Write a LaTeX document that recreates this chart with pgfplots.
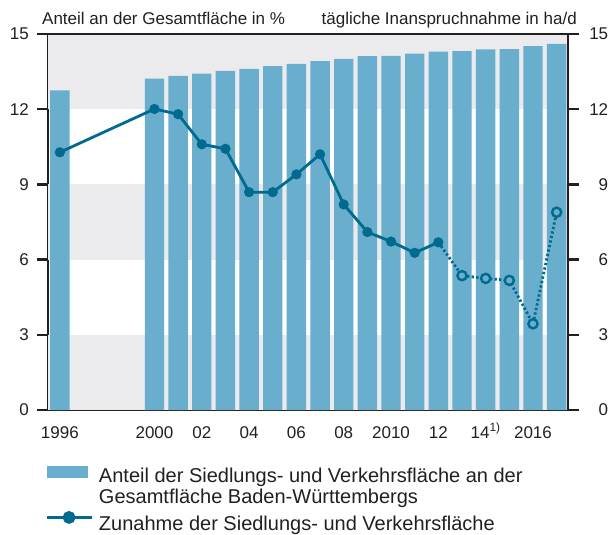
\documentclass[border=0pt]{standalone}
\usepackage{fontspec}
\setmainfont{Liberation Sans}
\usepackage{pgfplots}
\pgfplotsset{compat=1.18}
\definecolor{barcol}{HTML}{6AAECE}
\definecolor{linecol}{HTML}{006A8F}
\definecolor{bandcol}{HTML}{EBEBED}
\definecolor{txt}{HTML}{231F20}
\newcommand\fs{\fontsize{17bp}{20bp}\selectfont}
\newcommand\lfs{\fontsize{20bp}{23bp}\selectfont}

\begin{document}
\begin{tikzpicture}[font=\fs, text=txt]
\begin{axis}[name=ax, scale only axis, width=520bp, height=376bp,
  xmin=1995.5, xmax=2017.48, ymin=0, ymax=15,
  axis x line=bottom, axis y line=left,
  axis line style={-, line width=2.4bp, draw=txt},
  xtick={1996,2000,2002,2004,2006,2008,2010,2012,2014,2016},
  xticklabels={1996,2000,02,04,06,08,2010,12,14\textsuperscript{1)},2016},
  xtick style={draw=none}, xtick align=inside,
  xticklabel style={inner sep=0pt, anchor=base, yshift=-28bp},
  ytick={0,3,6,9,12,15}, ytick align=outside, major tick length=11bp,
  ytick style={line width=2.4bp, draw=txt},
  yticklabel style={inner sep=0pt, xshift=-8bp},
  /pgf/number format/assume math mode=true,
  legend cell align=left,
  legend style={at={(axis description cs:0,0)}, anchor=north west,
    xshift=-3bp, yshift=-52bp, draw=none, fill=none, inner sep=0pt,
    row sep=0pt, font=\lfs, text=txt, nodes={inner sep=0pt},
    /tikz/every odd column/.append style={column sep=6bp}},
]
\fill[bandcol] (axis cs:1995.5,0) rectangle (axis cs:2017.48,3);
\fill[bandcol] (axis cs:1995.5,6) rectangle (axis cs:2017.48,9);
\fill[bandcol] (axis cs:1995.5,12) rectangle (axis cs:2017.48,15);

\addplot[ybar, bar width=0.82, fill=barcol, draw=none,
  legend image code/.code={\fill[barcol] (0bp,-5.2bp) rectangle (41bp,7.3bp);}]
  coordinates {(1996,12.75) (2000,13.22) (2001,13.33) (2002,13.42) (2003,13.53)
  (2004,13.61) (2005,13.72) (2006,13.81) (2007,13.92) (2008,14.01) (2009,14.12)
  (2010,14.13) (2011,14.22) (2012,14.3) (2013,14.32) (2014,14.39) (2015,14.4)
  (2016,14.52) (2017,14.61)};
\addlegendentry{\rule[-5bp]{0pt}{25bp}Anteil der Siedlungs- und Verkehrsfläche an der}
\addlegendimage{empty legend}
\addlegendentry{\rule[-5bp]{0pt}{25bp}Gesamtfläche Baden-Württembergs}

\addplot[linecol, line width=2.8bp, mark=*, mark size=4.6bp,
  mark options={fill=linecol, draw=linecol, line width=1bp},
  legend image code/.code={\draw[linecol, line width=2.8bp] (0bp,1bp) -- (45bp,1bp);
    \fill[linecol] (22.5bp,1bp) circle (5bp);}]
  coordinates {(1996,10.28) (2000,12.01) (2001,11.8) (2002,10.6) (2003,10.42)
  (2004,8.69) (2005,8.69) (2006,9.4) (2007,10.2) (2008,8.2) (2009,7.1)
  (2010,6.72) (2011,6.27) (2012,6.69)};
\addlegendentry{\rule[-5bp]{0pt}{30bp}Zunahme der Siedlungs- und Verkehrsfläche}

\addplot[linecol, line width=2.8bp, dash pattern=on 2.3bp off 2.3bp, forget plot]
  coordinates {(2012,6.69) (2013,5.36) (2014,5.25) (2015,5.17) (2016,3.44) (2017,7.89)};
\addplot[only marks, mark=*, mark size=4.6bp,
  mark options={fill=barcol, draw=linecol, line width=2.4bp}, forget plot]
  coordinates {(2013,5.36) (2014,5.25) (2015,5.17) (2016,3.44) (2017,7.89)};
\end{axis}

\begin{axis}[scale only axis, width=520bp, height=376bp,
  xmin=1995.5, xmax=2017.48, ymin=0, ymax=15,
  hide x axis, axis y line=right,
  axis line style={-, line width=2.4bp, draw=txt},
  ytick={0,3,6,9,12,15}, ytick align=outside, major tick length=11bp,
  ytick style={line width=2.4bp, draw=txt},
  yticklabel style={inner sep=0pt, anchor=west, text width=19bp, align=right, xshift=10bp},
  /pgf/number format/assume math mode=true,
]
\draw[line width=1.2bp, txt] (rel axis cs:0,1) -- (rel axis cs:1,1);
\end{axis}
\node[anchor=base west, inner sep=0pt] at ([xshift=-6bp, yshift=9bp]ax.north west) {Anteil an der Gesamtfläche in \%};
\node[anchor=base east, inner sep=0pt] at ([xshift=9bp, yshift=9bp]ax.north east) {tägliche Inanspruchnahme in ha/d};
\pgfresetboundingbox
\path (ax.south west) ++(-48bp,-125bp) coordinate (bl);
\path (ax.north east) ++(43bp,34bp) coordinate (tr);
\path (bl) rectangle (tr);
\end{tikzpicture}
\end{document}
